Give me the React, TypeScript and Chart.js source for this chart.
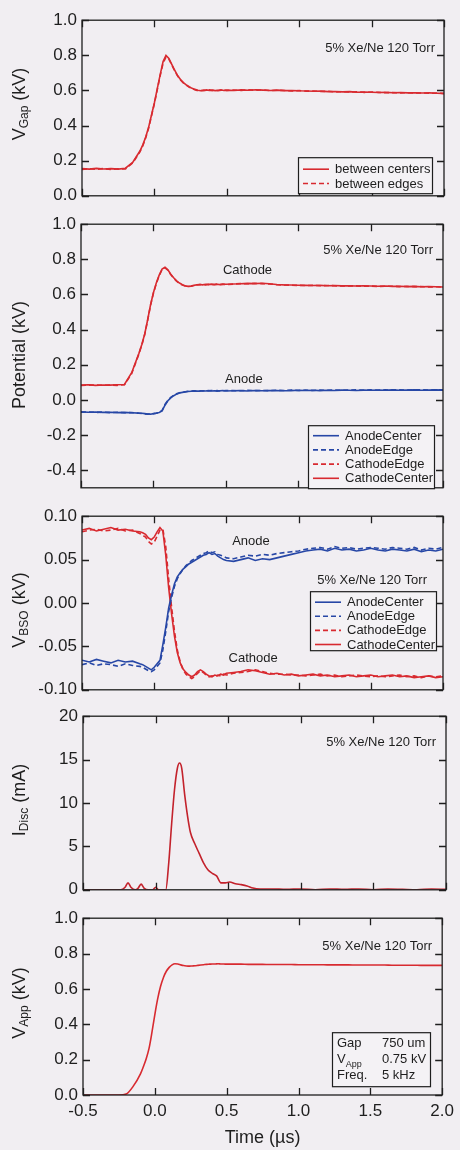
import React, { useEffect, useRef } from "react";
import { Chart, registerables } from "chart.js";

Chart.register(...registerables);

// ---- shared styling -------------------------------------------------------
const FONT = '"Liberation Sans", Arial, Helvetica, sans-serif';
const INK = "#1e1e1e";
const PAGE_BG = "#f1eef2";
const BOX_BG = "#f4f2f5";
const RED = "#d82a30";
const BLUE = "#2747a6";
const DARK_RED = "#c3222c";
const PAD_T = 12;
const PAD_B = 12;
const TICK_LEN = 7;

// ---- time axis ------------------------------------------------------------
const X_MIN = -0.5;
const X_MAX = 2.0;
const X_TICKS = [-0.5, 0, 0.5, 1.0, 1.5, 2.0];

// sample times (µs) shared by the voltage traces
const TIME_US = [
  -0.5, -0.45, -0.4, -0.35, -0.3, -0.25, -0.2, -0.15, -0.1,
  -0.08, -0.06, -0.04, -0.02, 0, 0.02, 0.04, 0.06, 0.08, 0.1,
  0.12, 0.14, 0.16, 0.18, 0.2, 0.22, 0.24, 0.26, 0.28, 0.3,
  0.32, 0.34, 0.36, 0.38, 0.4, 0.42, 0.44, 0.46, 0.48, 0.5,
  0.55, 0.6, 0.65, 0.7, 0.75, 0.8, 0.85, 0.9, 0.95, 1.0,
  1.05, 1.1, 1.15, 1.2, 1.25, 1.3, 1.35, 1.4, 1.45, 1.5,
  1.55, 1.6, 1.65, 1.7, 1.75, 1.8, 1.85, 1.9, 1.95, 2.0,
];

// ---- gap voltage (kV) -----------------------------------------------------
const V_GAP_CENTERS = [
  0.155, 0.152, 0.156, 0.153, 0.155, 0.152, 0.157, 0.19, 0.255,
  0.29, 0.335, 0.39, 0.46, 0.53, 0.61, 0.69, 0.765, 0.8, 0.782,
  0.748, 0.715, 0.685, 0.662, 0.645, 0.632, 0.621, 0.612, 0.606, 0.601,
  0.598, 0.6, 0.603, 0.6, 0.602, 0.599, 0.601, 0.603, 0.6, 0.602,
  0.6, 0.603, 0.601, 0.604, 0.602, 0.6, 0.602, 0.599, 0.6, 0.598,
  0.597, 0.595, 0.596, 0.593, 0.594, 0.592, 0.593, 0.59, 0.591, 0.59,
  0.588, 0.589, 0.587, 0.588, 0.586, 0.587, 0.585, 0.586, 0.584, 0.583,
];
const V_GAP_EDGES = [
  0.15, 0.154, 0.151, 0.155, 0.15, 0.154, 0.153, 0.187, 0.25,
  0.285, 0.33, 0.385, 0.455, 0.525, 0.605, 0.685, 0.755, 0.79, 0.778,
  0.745, 0.712, 0.683, 0.66, 0.643, 0.63, 0.619, 0.61, 0.604, 0.598,
  0.6, 0.602, 0.599, 0.603, 0.6, 0.602, 0.598, 0.601, 0.603, 0.6,
  0.602, 0.6, 0.604, 0.601, 0.603, 0.599, 0.601, 0.6, 0.597, 0.599,
  0.596, 0.597, 0.594, 0.595, 0.592, 0.593, 0.591, 0.592, 0.589, 0.591,
  0.589, 0.587, 0.588, 0.586, 0.587, 0.585, 0.586, 0.584, 0.585, 0.582,
];

// ---- electrode potentials (kV) --------------------------------------------
const POT_ANODE_CENTER = [
  -0.068, -0.07, -0.069, -0.071, -0.07, -0.072, -0.071, -0.073, -0.075,
  -0.076, -0.078, -0.08, -0.081, -0.078, -0.075, -0.071, -0.062, -0.03, -0.005,
  0.012, 0.024, 0.033, 0.039, 0.043, 0.046, 0.048, 0.049, 0.05, 0.051,
  0.05, 0.052, 0.051, 0.053, 0.051, 0.052, 0.05, 0.052, 0.053, 0.051,
  0.052, 0.053, 0.051, 0.054, 0.052, 0.053, 0.054, 0.052, 0.053, 0.055,
  0.054, 0.055, 0.053, 0.055, 0.054, 0.056, 0.055, 0.054, 0.056, 0.055,
  0.056, 0.055, 0.057, 0.055, 0.056, 0.057, 0.055, 0.056, 0.057, 0.056,
];
const POT_ANODE_EDGE = [
  -0.07, -0.068, -0.071, -0.069, -0.072, -0.07, -0.073, -0.072, -0.076,
  -0.077, -0.079, -0.081, -0.08, -0.079, -0.076, -0.072, -0.06, -0.026, -0.002,
  0.015, 0.026, 0.035, 0.041, 0.045, 0.047, 0.049, 0.05, 0.052, 0.051,
  0.052, 0.051, 0.053, 0.052, 0.054, 0.052, 0.053, 0.051, 0.052, 0.054,
  0.053, 0.052, 0.055, 0.053, 0.054, 0.053, 0.055, 0.054, 0.056, 0.054,
  0.056, 0.054, 0.056, 0.055, 0.057, 0.055, 0.056, 0.057, 0.055, 0.057,
  0.055, 0.057, 0.056, 0.058, 0.056, 0.057, 0.058, 0.056, 0.057, 0.058,
];
const POT_CATHODE_EDGE = [
  0.082, 0.084, 0.085, 0.083, 0.085, 0.083, 0.086, 0.15, 0.262,
  0.312, 0.372, 0.452, 0.537, 0.607, 0.662, 0.707, 0.742, 0.752, 0.738,
  0.713, 0.693, 0.676, 0.663, 0.654, 0.648, 0.645, 0.647, 0.651, 0.654,
  0.656, 0.657, 0.655, 0.658, 0.657, 0.656, 0.659, 0.657, 0.658, 0.656,
  0.659, 0.662, 0.661, 0.663, 0.662, 0.66, 0.656, 0.654, 0.653, 0.652,
  0.651, 0.652, 0.65, 0.651, 0.65, 0.648, 0.649, 0.649, 0.647, 0.648,
  0.646, 0.647, 0.647, 0.645, 0.646, 0.645, 0.645, 0.643, 0.644, 0.642,
];
const POT_CATHODE_CENTER = [
  0.084, 0.086, 0.083, 0.085, 0.084, 0.086, 0.088, 0.155, 0.265,
  0.315, 0.375, 0.455, 0.54, 0.61, 0.665, 0.71, 0.745, 0.755, 0.74,
  0.715, 0.695, 0.678, 0.665, 0.656, 0.649, 0.646, 0.648, 0.652, 0.655,
  0.657, 0.655, 0.658, 0.656, 0.659, 0.657, 0.658, 0.656, 0.659, 0.658,
  0.66, 0.661, 0.663, 0.662, 0.664, 0.661, 0.657, 0.655, 0.654, 0.653,
  0.652, 0.651, 0.652, 0.65, 0.651, 0.649, 0.65, 0.648, 0.649, 0.648,
  0.647, 0.648, 0.646, 0.647, 0.645, 0.646, 0.644, 0.645, 0.644, 0.643,
];

// ---- voltage across the BSO layer (kV) ------------------------------------
const BSO_ANODE_CENTER = [
  -0.066, -0.068, -0.065, -0.067, -0.069, -0.066, -0.068, -0.067, -0.07,
  -0.071, -0.073, -0.075, -0.077, -0.074, -0.07, -0.066, -0.048, -0.028, -0.006,
  0.009, 0.022, 0.03, 0.035, 0.039, 0.042, 0.045, 0.047, 0.049, 0.051,
  0.053, 0.055, 0.056, 0.058, 0.056, 0.057, 0.054, 0.052, 0.05, 0.049,
  0.048, 0.05, 0.052, 0.049, 0.051, 0.05, 0.052, 0.054, 0.056, 0.058,
  0.06, 0.061, 0.062, 0.06, 0.063, 0.061, 0.062, 0.06, 0.061, 0.063,
  0.061, 0.06, 0.062, 0.061, 0.06, 0.062, 0.059, 0.061, 0.06, 0.062,
];
const BSO_ANODE_EDGE = [
  -0.071, -0.069, -0.072, -0.07, -0.071, -0.073, -0.07, -0.072, -0.073,
  -0.074, -0.076, -0.078, -0.079, -0.077, -0.073, -0.069, -0.054, -0.033, -0.01,
  0.006, 0.019, 0.028, 0.034, 0.039, 0.043, 0.046, 0.049, 0.051, 0.053,
  0.055, 0.057, 0.058, 0.06, 0.058, 0.059, 0.056, 0.055, 0.054, 0.052,
  0.051, 0.053, 0.055, 0.054, 0.056, 0.055, 0.057, 0.058, 0.059, 0.06,
  0.062, 0.063, 0.064, 0.062, 0.065, 0.063, 0.064, 0.062, 0.063, 0.064,
  0.063, 0.062, 0.064, 0.063, 0.062, 0.064, 0.061, 0.063, 0.062, 0.064,
];
const BSO_CATHODE_EDGE = [
  0.082, 0.084, 0.085, 0.083, 0.084, 0.086, 0.083, 0.084, 0.08,
  0.078, 0.076, 0.071, 0.068, 0.07, 0.077, 0.084, 0.085, 0.065, 0.028,
  -0.004, -0.032, -0.054, -0.068, -0.077, -0.082, -0.085, -0.087, -0.085, -0.081,
  -0.078, -0.08, -0.083, -0.085, -0.084, -0.085, -0.083, -0.084, -0.082, -0.083,
  -0.081, -0.08, -0.079, -0.077, -0.079, -0.081, -0.082, -0.082, -0.083, -0.083,
  -0.084, -0.083, -0.082, -0.084, -0.083, -0.085, -0.084, -0.083, -0.084, -0.085,
  -0.084, -0.085, -0.084, -0.083, -0.085, -0.084, -0.086, -0.084, -0.085, -0.084,
];
const BSO_CATHODE_CENTER = [
  0.084, 0.086, 0.083, 0.085, 0.087, 0.084, 0.085, 0.083, 0.082,
  0.081, 0.079, 0.075, 0.073, 0.076, 0.082, 0.087, 0.083, 0.055, 0.018,
  -0.012, -0.038, -0.057, -0.069, -0.076, -0.08, -0.083, -0.085, -0.083, -0.079,
  -0.077, -0.079, -0.082, -0.084, -0.085, -0.083, -0.084, -0.082, -0.083, -0.081,
  -0.08, -0.079, -0.077, -0.078, -0.08, -0.082, -0.081, -0.083, -0.082, -0.084,
  -0.083, -0.082, -0.084, -0.083, -0.085, -0.084, -0.083, -0.085, -0.084, -0.083,
  -0.085, -0.084, -0.083, -0.085, -0.084, -0.086, -0.085, -0.084, -0.086, -0.085,
];

// ---- discharge current (mA) -----------------------------------------------
const TIME_DISC_US = [
  -0.5, -0.3, -0.24, -0.21, -0.19, -0.17, -0.14, -0.12, -0.1, -0.08,
  -0.05, -0.02, 0, 0.02, 0.05, 0.07, 0.09, 0.11, 0.13, 0.15,
  0.165, 0.18, 0.2, 0.22, 0.24, 0.27, 0.3, 0.33, 0.36, 0.39,
  0.42, 0.45, 0.48, 0.51, 0.55, 0.59, 0.63, 0.67, 0.72, 0.8,
  0.9, 1.0, 1.1, 1.2, 1.3, 1.4, 1.5, 1.6, 1.7, 1.8,
  1.9, 2.0,
];
const I_DISC_MA = [
  0, 0, 0, 0.3, 0.8, 0.3, 0, 0.2, 0.65, 0.2,
  0, 0, 0.3, 0, 0, 0, 3.0, 7.5, 11.5, 14.0,
  14.6, 14.0, 11.0, 8.5, 6.6, 5.3, 4.2, 3.1, 2.3, 1.9,
  1.6, 0.8, 0.8, 0.9, 0.7, 0.6, 0.45, 0.2, 0.1, 0.1,
  0.05, 0.1, 0, 0.1, 0.05, 0.1, 0, 0.1, 0.05, 0,
  0.1, 0.05,
];

// ---- applied voltage (kV) -------------------------------------------------
const V_APP = [
  0, 0, 0, 0, 0, 0, 0.005, 0.05, 0.12,
  0.16, 0.205, 0.265, 0.355, 0.455, 0.545, 0.615, 0.665, 0.7, 0.722,
  0.736, 0.742, 0.741, 0.736, 0.732, 0.73, 0.729, 0.73, 0.731, 0.733,
  0.735, 0.737, 0.739, 0.74, 0.741, 0.741, 0.742, 0.741, 0.741, 0.74,
  0.74, 0.74, 0.739, 0.739, 0.739, 0.738, 0.738, 0.738, 0.738, 0.737,
  0.737, 0.737, 0.737, 0.736, 0.736, 0.736, 0.736, 0.735, 0.735, 0.735,
  0.735, 0.735, 0.734, 0.734, 0.734, 0.734, 0.733, 0.733, 0.733, 0.733,
];

// ---- axis tick values -----------------------------------------------------
const Y_TICKS_GAP = [0, 0.2, 0.4, 0.6, 0.8, 1.0];
const Y_TICKS_POT = [-0.4, -0.2, 0, 0.2, 0.4, 0.6, 0.8, 1.0];
const Y_TICKS_BSO = [-0.1, -0.05, 0, 0.05, 0.1];
const Y_TICKS_DISC = [0, 5, 10, 15, 20];
const Y_TICKS_APP = [0, 0.2, 0.4, 0.6, 0.8, 1.0];

const CONDITION = "5% Xe/Ne 120 Torr";
const ELECTRODE_LABELS = ["AnodeCenter", "AnodeEdge", "CathodeEdge", "CathodeCenter"];
const GAP_LABELS = ["between centers", "between edges"];
const INFO_KEYS = ["Gap", "V|App", "Freq."];
const INFO_VALUES = ["750 um", "0.75 kV", "5 kHz"];

type Series = {
  label: string;
  time: number[];
  values: number[];
  color: string;
  dash: boolean;
  smooth?: boolean;
};

const electrodeSeries = (vals: number[][]): Series[] =>
  ELECTRODE_LABELS.map((label, i) => ({
    label,
    time: TIME_US,
    values: vals[i],
    color: i < 2 ? BLUE : RED,
    dash: i === 1 || i === 2,
  }));

const PANELS = [
  {
    key: "gap",
    top: 17, bottom: 199, left: 82, right: 444,
    yMin: 0, yMax: 1.0, yTicks: Y_TICKS_GAP, decimals: 1,
    title: [["V", 0], ["Gap", 1], [" (kV)", 0]],
    titleY: 104,
    series: [
      { label: GAP_LABELS[0], time: TIME_US, values: V_GAP_CENTERS, color: RED, dash: false },
      { label: GAP_LABELS[1], time: TIME_US, values: V_GAP_EDGES, color: RED, dash: true },
    ] as Series[],
    condition: { dx: 9, dy: 28 },
    legend: { x: 216, y: 137, w: 134, h: 36, first: 12, step: 14.3 },
    notes: [],
  },
  {
    key: "pot",
    top: 221, bottom: 491, left: 81, right: 443,
    yMin: -0.5, yMax: 1.0, yTicks: Y_TICKS_POT, decimals: 1,
    title: [["Potential (kV)", 0]],
    titleY: 355,
    series: electrodeSeries([POT_ANODE_CENTER, POT_ANODE_EDGE, POT_CATHODE_EDGE, POT_CATHODE_CENTER]),
    condition: { dx: 10, dy: 26 },
    legend: { x: 227, y: 201, w: 126, h: 63, first: 10.5, step: 14.2 },
    notes: [
      { text: "Cathode", t: 0.65, v: 0.735 },
      { text: "Anode", t: 0.625, v: 0.117 },
    ],
  },
  {
    key: "bso",
    top: 513, bottom: 693, left: 82, right: 443,
    yMin: -0.1, yMax: 0.1, yTicks: Y_TICKS_BSO, decimals: 2,
    title: [["V", 0], ["BSO", 1], [" (kV)", 0]],
    titleY: 610,
    series: electrodeSeries([BSO_ANODE_CENTER, BSO_ANODE_EDGE, BSO_CATHODE_EDGE, BSO_CATHODE_CENTER]),
    condition: { dx: 16, dy: 64 },
    legend: { x: 228, y: 75, w: 126, h: 59, first: 11, step: 14.1 },
    notes: [
      { text: "Anode", t: 0.67, v: 0.071 },
      { text: "Cathode", t: 0.685, v: -0.064 },
    ],
  },
  {
    key: "disc",
    top: 713, bottom: 893, left: 83, right: 446,
    yMin: 0, yMax: 20, yTicks: Y_TICKS_DISC, decimals: 0,
    title: [["I", 0], ["Disc", 1], [" (mA)", 0]],
    titleY: 800,
    series: [
      { label: "IDisc", time: TIME_DISC_US, values: I_DISC_MA, color: DARK_RED, dash: false, smooth: true },
    ] as Series[],
    condition: { dx: 10, dy: 26 },
    legend: null,
    notes: [],
  },
  {
    key: "app",
    top: 915, bottom: 1095, left: 83, right: 446,
    yMin: 0, yMax: 1.0, yTicks: Y_TICKS_APP, decimals: 1,
    title: [["V", 0], ["App", 1], [" (kV)", 0]],
    titleY: 1003,
    series: [
      { label: "VApp", time: TIME_US, values: V_APP, color: RED, dash: false, smooth: true },
    ] as Series[],
    condition: { dx: 10, dy: 28 },
    legend: null,
    info: { x: 249, y: 114, w: 98, h: 54 },
    notes: [],
    showX: true,
  },
];

const DASH = [5, 3];

function drawSubText(
  ctx: CanvasRenderingContext2D,
  parts: (string | number)[][],
  size: number,
  subSize: number,
  subDrop: number,
  x: number,
  y: number,
  align: "left" | "center",
) {
  const widths = parts.map(([t, sub]) => {
    ctx.font = `${sub ? subSize : size}px ${FONT}`;
    return ctx.measureText(String(t)).width;
  });
  const total = widths.reduce((a, b) => a + b, 0);
  let cx = align === "center" ? x - total / 2 : x;
  ctx.textAlign = "left";
  ctx.textBaseline = "middle";
  parts.forEach(([t, sub], i) => {
    ctx.font = `${sub ? subSize : size}px ${FONT}`;
    ctx.fillText(String(t), cx, sub ? y + subDrop : y);
    cx += widths[i];
  });
}

function makeDecor(p: any) {
  return {
    id: "panelDecor",
    afterDraw(chart: any) {
      const { ctx, chartArea: a, scales } = chart;
      const xs = scales.x;
      const ys = scales.y;
      ctx.save();

      // frame
      ctx.strokeStyle = INK;
      ctx.lineWidth = 1.3;
      ctx.setLineDash([]);
      ctx.strokeRect(a.left, a.top, a.right - a.left, a.bottom - a.top);

      // inward ticks on all four sides
      ctx.beginPath();
      for (const v of p.yTicks) {
        const py = Math.round(ys.getPixelForValue(v)) + 0.5;
        ctx.moveTo(a.left, py);
        ctx.lineTo(a.left + TICK_LEN, py);
        ctx.moveTo(a.right, py);
        ctx.lineTo(a.right - TICK_LEN, py);
      }
      for (const v of X_TICKS) {
        const px = Math.round(xs.getPixelForValue(v)) + 0.5;
        ctx.moveTo(px, a.top);
        ctx.lineTo(px, a.top + TICK_LEN);
        ctx.moveTo(px, a.bottom);
        ctx.lineTo(px, a.bottom - TICK_LEN);
      }
      ctx.stroke();

      ctx.fillStyle = INK;

      // y-axis title (rotated, with subscript)
      ctx.save();
      ctx.translate(20, p.titleY - (p.top - PAD_T));
      ctx.rotate(-Math.PI / 2);
      drawSubText(ctx, p.title, 18, 12, 5, 0, 0, "center");
      ctx.restore();

      // gas condition
      ctx.font = `13px ${FONT}`;
      ctx.textAlign = "right";
      ctx.textBaseline = "middle";
      ctx.fillText(CONDITION, a.right - p.condition.dx, a.top + p.condition.dy);

      // trace labels
      ctx.textAlign = "center";
      for (const n of p.notes) {
        ctx.fillText(n.text, xs.getPixelForValue(n.t), ys.getPixelForValue(n.v));
      }

      // legend box
      if (p.legend) {
        const L = p.legend;
        const bx = a.left + L.x;
        const by = a.top + L.y;
        ctx.fillStyle = BOX_BG;
        ctx.fillRect(bx, by, L.w, L.h);
        ctx.strokeStyle = INK;
        ctx.lineWidth = 1.2;
        ctx.strokeRect(bx + 0.5, by + 0.5, L.w, L.h);
        p.series.forEach((s: Series, i: number) => {
          const ry = by + L.first + i * L.step;
          ctx.strokeStyle = s.color;
          ctx.lineWidth = 1.6;
          ctx.setLineDash(s.dash ? DASH : []);
          ctx.beginPath();
          ctx.moveTo(bx + 5, ry);
          ctx.lineTo(bx + 31, ry);
          ctx.stroke();
          ctx.setLineDash([]);
          ctx.fillStyle = INK;
          ctx.font = `13px ${FONT}`;
          ctx.textAlign = "left";
          ctx.textBaseline = "middle";
          ctx.fillText(s.label, bx + 37, ry + 0.5);
        });
      }

      // discharge settings box
      if (p.info) {
        const B = p.info;
        const bx = a.left + B.x;
        const by = a.top + B.y;
        ctx.fillStyle = BOX_BG;
        ctx.fillRect(bx, by, B.w, B.h);
        ctx.strokeStyle = INK;
        ctx.lineWidth = 1.2;
        ctx.strokeRect(bx + 0.5, by + 0.5, B.w, B.h);
        ctx.fillStyle = INK;
        INFO_KEYS.forEach((k, i) => {
          const ry = by + 11 + i * 16;
          const parts = k.split("|").map((t, j) => [t, j]);
          drawSubText(ctx, parts, 13, 9, 5, bx + 5, ry, "left");
          ctx.font = `13px ${FONT}`;
          ctx.textAlign = "left";
          ctx.fillText(INFO_VALUES[i], bx + 50, ry);
        });
      }

      ctx.restore();
    },
  };
}

function Panel({ p }: { p: any }) {
  const ref = useRef<HTMLCanvasElement>(null);
  const canvasTop = p.top - PAD_T;
  const height = p.showX ? 1150 - canvasTop : p.bottom - p.top + PAD_T + PAD_B;

  useEffect(() => {
    const canvas = ref.current;
    if (!canvas) return;
    const chart = new Chart(canvas, {
      type: "line",
      data: {
        datasets: p.series.map((s: Series) => ({
          label: s.label,
          data: s.time.map((t, i) => ({ x: t, y: s.values[i] })),
          borderColor: s.color,
          borderWidth: 1.6,
          borderDash: s.dash ? DASH : [],
          pointRadius: 0,
          fill: false,
          tension: s.smooth ? 0.4 : 0,
          cubicInterpolationMode: s.smooth ? "monotone" : "default",
        })),
      },
      options: {
        responsive: false,
        animation: false,
        devicePixelRatio: 1,
        events: [],
        layout: {
          padding: { top: PAD_T, right: 460 - p.right, bottom: p.showX ? 1 : PAD_B, left: 0 },
        },
        plugins: { legend: { display: false }, tooltip: { enabled: false } },
        scales: {
          x: {
            type: "linear",
            min: X_MIN,
            max: X_MAX,
            display: !!p.showX,
            grid: { display: false, drawTicks: false },
            border: { display: false },
            afterBuildTicks: (s: any) => {
              s.ticks = X_TICKS.map((v) => ({ value: v }));
            },
            afterFit: (s: any) => {
              if (p.showX) s.height = 1149 - p.bottom;
            },
            ticks: {
              font: { family: FONT, size: 17 },
              color: INK,
              padding: 6,
              maxRotation: 0,
              autoSkip: false,
              callback: (v: any) => Number(v).toFixed(1),
            },
            title: {
              display: true,
              text: "Time (µs)",
              font: { family: FONT, size: 18 },
              color: INK,
              padding: 0,
            },
          },
          y: {
            type: "linear",
            min: p.yMin,
            max: p.yMax,
            grid: { display: false, drawTicks: false },
            border: { display: false },
            afterBuildTicks: (s: any) => {
              s.ticks = p.yTicks.map((v: number) => ({ value: v }));
            },
            afterFit: (s: any) => {
              s.width = p.left;
            },
            ticks: {
              font: { family: FONT, size: 17 },
              color: INK,
              padding: 5,
              autoSkip: false,
              callback: (v: any) => Number(v).toFixed(p.decimals),
            },
          },
        },
      },
      plugins: [makeDecor(p)],
    } as any);
    return () => chart.destroy();
  }, [p]);

  return (
    <canvas
      ref={ref}
      width={460}
      height={height}
      style={{ position: "absolute", left: 0, top: canvasTop, width: 460, height, display: "block" }}
    />
  );
}

export default function App() {
  return (
    <div
      style={{
        position: "absolute",
        left: 0,
        top: 0,
        width: 460,
        height: 1150,
        background: PAGE_BG,
        overflow: "hidden",
      }}
    >
      {PANELS.map((p) => (
        <Panel key={p.key} p={p} />
      ))}
    </div>
  );
}
